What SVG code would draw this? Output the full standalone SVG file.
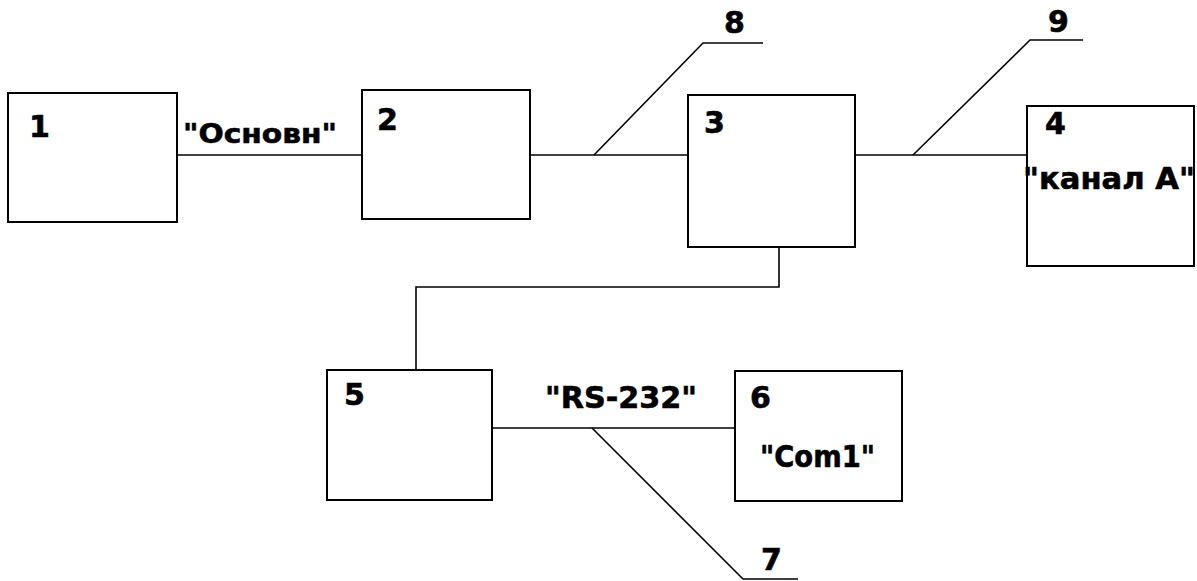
<svg xmlns="http://www.w3.org/2000/svg" width="1197" height="581" viewBox="0 0 1197 581">
<style>
.box{fill:#fff;stroke:#000;stroke-width:2}
.ln{fill:none;stroke:#000;stroke-width:1.6}
.t{font-family:"DejaVu Sans",Verdana,sans-serif;font-weight:bold;font-size:30px;fill:#000;stroke:#000;stroke-width:0.6}
.s{font-size:27px}
</style>
<rect width="1197" height="581" fill="#fff"/>
<g id="connectors">
<path class="ln" d="M177 155H362"/>
<path class="ln" d="M530 155H688"/>
<path class="ln" d="M855 155H1027"/>
<path class="ln" d="M779 247V287H416V370"/>
<path class="ln" d="M492 428H735"/>
<path class="ln" d="M594 155L703 43H763"/>
<path class="ln" d="M913 155L1030 40H1083"/>
<path class="ln" d="M592 428L743 579H798"/>
<text class="t s" x="183" y="143" textLength="154" lengthAdjust="spacingAndGlyphs">"Основн"</text>
<text class="t" x="545" y="408" textLength="152" lengthAdjust="spacingAndGlyphs">"RS-232"</text>
<text class="t" x="724" y="33">8</text>
<text class="t" x="1048" y="32">9</text>
<text class="t" x="761" y="570">7</text>
</g>
<g id="n1"><rect class="box" x="8" y="93" width="169" height="129"/><text class="t" x="29" y="137">1</text></g>
<g id="n2"><rect class="box" x="362" y="90" width="168" height="129"/><text class="t" x="377" y="130">2</text></g>
<g id="n3"><rect class="box" x="688" y="95" width="167" height="152"/><text class="t" x="704" y="133">3</text></g>
<g id="n4"><rect class="box" x="1027" y="106" width="167" height="160"/><text class="t" x="1045" y="134">4</text><text class="t" x="1023" y="189" textLength="172" lengthAdjust="spacingAndGlyphs">"канал А"</text></g>
<g id="n5"><rect class="box" x="327" y="370" width="165" height="130"/><text class="t" x="344" y="405">5</text></g>
<g id="n6"><rect class="box" x="735" y="371" width="167" height="130"/><text class="t" x="750" y="408">6</text><text class="t" x="760" y="467" textLength="115" lengthAdjust="spacingAndGlyphs">"Com1"</text></g>
</svg>
